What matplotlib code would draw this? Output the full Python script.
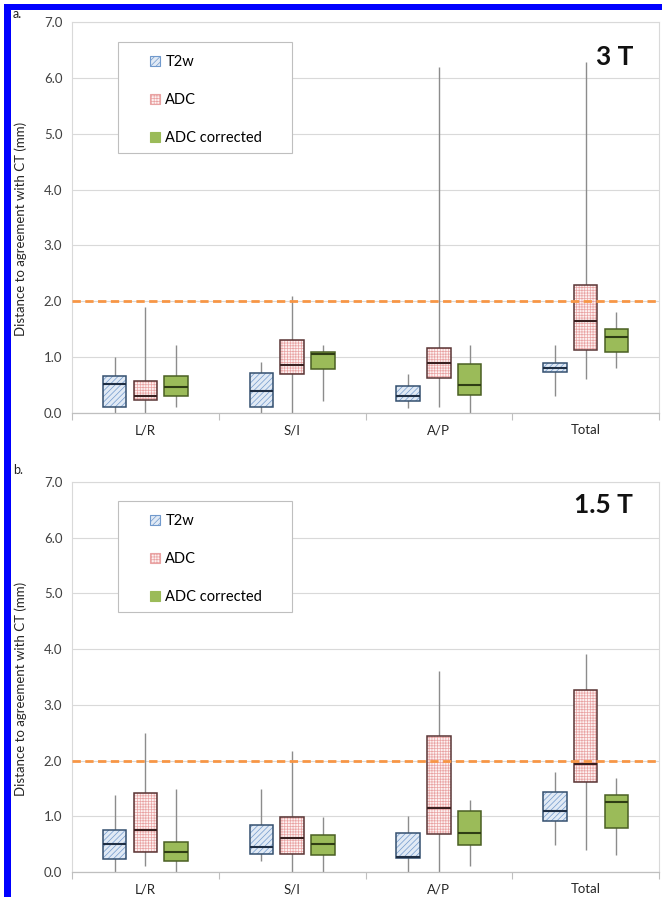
import matplotlib

matplotlib.use("Agg")
import matplotlib.pyplot as plt
import numpy as np
from matplotlib.patches import Patch, Rectangle

plt.rcParams["font.family"] = ["Lato", "DejaVu Sans"]
plt.rcParams["hatch.linewidth"] = 0.5

categories = ["L/R", "S/I", "A/P", "Total"]
series = ["T2w", "ADC", "ADC corrected"]
panel_tags = ["a.", "b."]
field_labels = ["3 T", "1.5 T"]
threshold = 2.0

# --- panel a: 3 T ---------------------------------------------------------
a_t2w_lo = [0.00, 0.00, 0.09, 0.30]
a_t2w_q1 = [0.10, 0.10, 0.21, 0.73]
a_t2w_med = [0.52, 0.40, 0.30, 0.80]
a_t2w_q3 = [0.67, 0.71, 0.48, 0.90]
a_t2w_hi = [1.00, 0.91, 0.70, 1.21]

a_adc_lo = [0.00, 0.00, 0.11, 0.60]
a_adc_q1 = [0.23, 0.70, 0.62, 1.13]
a_adc_med = [0.31, 0.86, 0.90, 1.65]
a_adc_q3 = [0.58, 1.30, 1.17, 2.30]
a_adc_hi = [1.90, 2.10, 6.20, 6.28]

a_cor_lo = [0.10, 0.21, 0.00, 0.80]
a_cor_q1 = [0.30, 0.79, 0.32, 1.10]
a_cor_med = [0.46, 1.05, 0.51, 1.36]
a_cor_q3 = [0.67, 1.10, 0.88, 1.50]
a_cor_hi = [1.21, 1.21, 1.21, 1.81]

# --- panel b: 1.5 T -------------------------------------------------------
b_t2w_lo = [0.00, 0.19, 0.00, 0.49]
b_t2w_q1 = [0.24, 0.33, 0.26, 0.92]
b_t2w_med = [0.50, 0.45, 0.27, 1.09]
b_t2w_q3 = [0.75, 0.85, 0.70, 1.44]
b_t2w_hi = [1.39, 1.49, 1.00, 1.79]

b_adc_lo = [0.10, 0.00, 0.00, 0.40]
b_adc_q1 = [0.36, 0.33, 0.69, 1.61]
b_adc_med = [0.75, 0.61, 1.14, 1.94]
b_adc_q3 = [1.42, 0.99, 2.45, 3.27]
b_adc_hi = [2.50, 2.18, 3.60, 3.91]

b_cor_lo = [0.00, 0.00, 0.10, 0.30]
b_cor_q1 = [0.19, 0.30, 0.49, 0.79]
b_cor_med = [0.36, 0.50, 0.70, 1.25]
b_cor_q3 = [0.54, 0.67, 1.09, 1.39]
b_cor_hi = [1.49, 0.99, 1.30, 1.69]

panels = [
    [
        (a_t2w_lo, a_t2w_q1, a_t2w_med, a_t2w_q3, a_t2w_hi),
        (a_adc_lo, a_adc_q1, a_adc_med, a_adc_q3, a_adc_hi),
        (a_cor_lo, a_cor_q1, a_cor_med, a_cor_q3, a_cor_hi),
    ],
    [
        (b_t2w_lo, b_t2w_q1, b_t2w_med, b_t2w_q3, b_t2w_hi),
        (b_adc_lo, b_adc_q1, b_adc_med, b_adc_q3, b_adc_hi),
        (b_cor_lo, b_cor_q1, b_cor_med, b_cor_q3, b_cor_hi),
    ],
]

# styles per series: fill, hatch, hatch colour, edge, median
styles = [
    dict(fill="#e1eaf5", hatch="//////", hcol="#7099cc", edge="#34506f", med="#1f2f45"),
    dict(fill="#fdf1f1", hatch="++++++", hcol="#e9a3a3", edge="#5a3535", med="#3a2020"),
    dict(fill="#9bbb59", hatch=None, hcol="#9bbb59", edge="#4a5f23", med="#2f3d14"),
]
offsets = [-0.21, 0.0, 0.21]
box_w = 0.16

W, H = 662, 897
fig = plt.figure(figsize=(W / 100, H / 100), dpi=100)

ax_left, ax_right = 72, 659
axes_px = [(22, 413), (482, 872)]
legend_px = [(118, 42, 292, 153), (118, 501, 292, 612)]
label_px = [(633, 57), (633, 505)]
tag_px = [(13, 14), (13, 470)]


def fx(px):
    return px / W


def fy(py):
    return 1 - py / H


x = np.arange(len(categories))
for p, data in enumerate(panels):
    top, bot = axes_px[p]
    ax = fig.add_axes([fx(ax_left), fy(bot), fx(ax_right - ax_left), (bot - top) / H])
    ax.set_axisbelow(True)

    for s, (lo, q1, med, q3, hi) in enumerate(data):
        st = styles[s]
        xs = x + offsets[s]
        q1 = np.array(q1)
        q3 = np.array(q3)
        ax.vlines(xs, lo, hi, color="#8c8c8c", lw=1.0, zorder=2)
        ax.bar(xs, q3 - q1, bottom=q1, width=box_w, color=st["fill"],
               hatch=st["hatch"], edgecolor=st["hcol"], lw=0, zorder=3)
        ax.bar(xs, q3 - q1, bottom=q1, width=box_w, facecolor="none",
               edgecolor=st["edge"], lw=1.1, zorder=4)
        ax.hlines(med, xs - box_w / 2, xs + box_w / 2, color=st["med"], lw=1.5, zorder=5)

    ax.axhline(threshold, color="#f79646", lw=2.0, dashes=(3, 1.6), zorder=6)

    ax.set_ylim(0, 7)
    ax.set_yticks(np.arange(0, 8, 1.0))
    ax.set_yticklabels([f"{v:.1f}" for v in np.arange(0, 8, 1.0)])
    ax.set_xlim(-0.5, len(categories) - 0.5)
    ax.set_xticks(x)
    ax.set_xticklabels(categories)
    ax.set_xticks(np.arange(-0.5, len(categories)), minor=True)
    ax.tick_params(axis="x", which="major", length=0, pad=8, labelsize=9.5, labelcolor="#262626")
    ax.tick_params(axis="x", which="minor", length=5, color="#bfbfbf", width=0.8)
    ax.tick_params(axis="y", length=0, pad=7, labelsize=9.5, labelcolor="#404040")
    ax.grid(axis="y", color="#d9d9d9", lw=0.8)
    for side in ["left", "right", "top"]:
        ax.spines[side].set_color("#d9d9d9")
        ax.spines[side].set_linewidth(0.8)
    ax.spines["bottom"].set_color("#bfbfbf")
    ax.spines["bottom"].set_linewidth(0.9)

    ax.set_ylabel("Distance to agreement with CT (mm)", fontsize=9.5, color="#262626")
    ax.yaxis.set_label_coords(-0.076, 0.47)

    # legend frame + entries
    lx0, ly0, lx1, ly1 = legend_px[p]
    ax.add_patch(Rectangle((fx(lx0), fy(ly1)), fx(lx1 - lx0), (ly1 - ly0) / H,
                           transform=fig.transFigure, facecolor="white",
                           edgecolor="#bfbfbf", lw=0.8, zorder=7))
    handles = [Patch(facecolor=st["fill"], hatch=st["hatch"], edgecolor=st["hcol"], lw=0.8)
               for st in styles]
    leg = ax.legend(handles, series, loc="upper left",
                    bbox_to_anchor=(fx(lx0 + 32), fy(ly0 + 13)),
                    bbox_transform=fig.transFigure, frameon=False, fontsize=10.5,
                    handlelength=0.7, handleheight=0.7, handletextpad=0.35,
                    labelspacing=1.65, borderpad=0, borderaxespad=0)
    leg.set_zorder(8)

    fig.text(fx(label_px[p][0]), fy(label_px[p][1]), field_labels[p], ha="right",
             va="center", fontsize=19, fontweight="bold", color="#111111")
    fig.text(fx(tag_px[p][0]), fy(tag_px[p][1]), panel_tags[p], ha="left",
             va="center", fontsize=9, color="#222222")

# blue frame along the top and left edge
fig.patches.append(Rectangle((fx(4), fy(H)), fx(7), fy(4), transform=fig.transFigure,
                             facecolor="#0000ff", edgecolor="none"))
fig.patches.append(Rectangle((fx(4), fy(10)), 1 - fx(4), 6 / H, transform=fig.transFigure,
                             facecolor="#0000ff", edgecolor="none"))

fig.savefig("out.png", dpi=100)
